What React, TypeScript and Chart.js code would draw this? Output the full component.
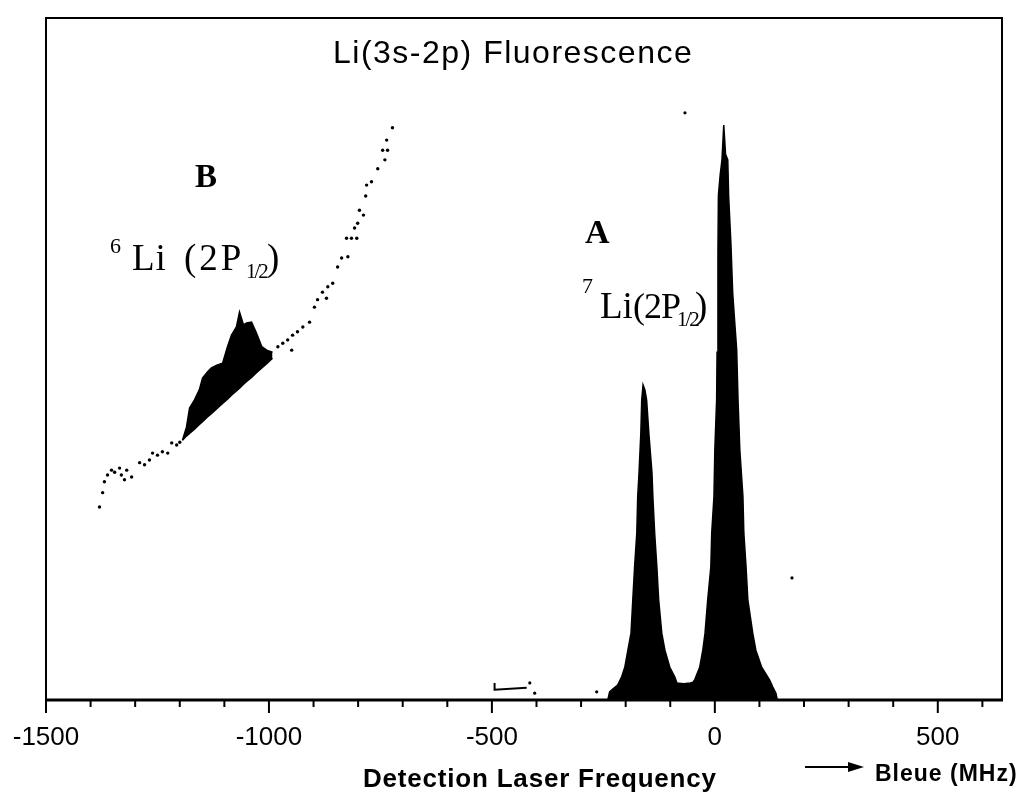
import React, { useEffect, useRef } from "react";
import { Chart, registerables } from "chart.js";

Chart.register(...registerables);

// ---- axis ----
const X_MIN = -1500;
const X_MAX = 644;
const Y_MIN = 0;
const Y_MAX = 100;
const MAJOR_TICKS = [-1500, -1000, -500, 0, 500];
const MINOR_TICKS = [-1400, -1300, -1200, -1100, -900, -800, -700, -600, -400, -300, -200, -100, 100, 200, 300, 400, 600];

// ---- A : 7Li(2P1/2) doublet (filled signal) ----
const A_FREQ = [-240, -236, -231, -218, -209, -202, -195, -188, -184, -180, -175, -173, -170, -166, -164, -161, -157, -153, -148, -141, -139, -135, -130, -126, -119, -112, -101, -90, -85, -70, -55, -49, -45, -34, -27, -22, -16, -9, -7, -2, 0, 4, 5, 7, 8, 12, 16, 20, 24, 29, 31, 36, 40, 45, 49, 52, 56, 63, 65, 70, 74, 85, 92, 105, 123, 130, 137, 140];
const A_INT = [0, 1.2, 1.5, 2.2, 3.4, 4.8, 7.3, 9.8, 14.7, 19.5, 24.5, 29.8, 33.3, 39.1, 44.0, 46.2, 45.5, 44.0, 39.1, 33.3, 29.8, 24.5, 19.5, 14.7, 9.8, 7.3, 4.8, 3.4, 2.5, 2.4, 2.5, 2.6, 3.0, 4.8, 7.3, 9.8, 14.7, 19.5, 24.5, 29.8, 36.7, 44.0, 51.0, 66.0, 74.0, 77.0, 79.2, 84.3, 80.0, 79.2, 73.8, 67.0, 59.7, 55.0, 51.3, 44.0, 36.7, 29.8, 24.5, 19.5, 14.7, 9.8, 7.3, 4.8, 2.9, 1.9, 1.0, 0];

// ---- B : 6Li(2P1/2) signal on rising background ----
const B_FREQ = [-1194, -1185, -1178, -1167, -1156, -1149, -1138, -1129, -1117, -1104, -1093, -1084, -1073, -1066, -1057, -1050, -1039, -1028, -1016, -1005, -992];
const B_LOWER = [38.1, 38.7, 39.1, 39.7, 40.4, 40.8, 41.5, 42.0, 42.7, 43.5, 44.1, 44.7, 45.3, 45.7, 46.3, 46.7, 47.3, 48.0, 48.7, 49.3, 50.1];
const B_UPPER = [38.1, 40.0, 42.8, 44.0, 45.5, 47.2, 48.1, 48.7, 49.1, 49.4, 51.8, 53.5, 54.7, 56.9, 55.0, 55.3, 55.4, 53.8, 51.8, 51.3, 51.0];

// ---- B background points (dotted trace) ----
const BG_FREQ = [-1380, -1373, -1369, -1362, -1353, -1346, -1335, -1331, -1324, -1319, -1308, -1290, -1279, -1268, -1261, -1250, -1239, -1227, -1218, -1207, -1200, -980, -969, -958, -949, -947, -936, -924, -909, -898, -891, -880, -871, -868, -857, -846, -837, -823, -826, -815, -803, -808, -801, -797, -788, -783, -781, -770, -756, -745, -734, -740, -736, -723];
const BG_INT = [28.3, 30.4, 32.0, 33.0, 33.7, 33.4, 34.0, 33.0, 32.3, 33.7, 32.7, 34.8, 34.5, 35.2, 36.2, 35.9, 36.4, 36.2, 37.7, 37.4, 37.8, 51.8, 52.3, 52.8, 51.3, 53.5, 54.0, 54.7, 55.4, 57.6, 58.7, 59.8, 58.9, 60.6, 61.1, 63.5, 64.8, 65.0, 67.7, 67.7, 67.7, 69.2, 69.9, 71.8, 71.1, 73.9, 75.5, 76.0, 77.9, 80.6, 80.6, 79.2, 82.1, 83.9];

// ---- short trace near -500 MHz ----
const SEG_FREQ = [-494, -494, -422];
const SEG_INT = [2.5, 1.5, 1.8];

// ---- isolated specks ----
const SPECK_FREQ = [-415, -404, -265, -67, 173];
const SPECK_INT = [2.5, 1.0, 1.2, 86.1, 17.9];

const pts = (xs: number[], ys: number[]) => xs.map((x, i) => ({ x, y: ys[i] }));

const SANS = "'Liberation Sans', Arial, sans-serif";
const SERIF = "'Liberation Serif', 'Times New Roman', serif";

function txt(ctx: CanvasRenderingContext2D, s: string, x: number, y: number, font: string, spacing = 0) {
  ctx.font = font;
  (ctx as any).letterSpacing = spacing + "px";
  ctx.fillText(s, x, y);
  (ctx as any).letterSpacing = "0px";
}

const decor = {
  id: "decor",
  afterDraw(chart: any) {
    const { ctx, chartArea: a } = chart;
    const x = chart.scales.x;
    ctx.save();
    ctx.strokeStyle = "#000";
    ctx.fillStyle = "#000";
    // frame
    ctx.lineWidth = 2;
    ctx.strokeRect(a.left, a.top, a.right - a.left, a.bottom - a.top);
    ctx.lineWidth = 3;
    ctx.beginPath();
    ctx.moveTo(a.left - 1, a.bottom);
    ctx.lineTo(a.right + 1, a.bottom);
    ctx.stroke();
    // ticks
    ctx.lineWidth = 2;
    MAJOR_TICKS.forEach((v) => {
      const px = x.getPixelForValue(v);
      ctx.beginPath();
      ctx.moveTo(px, a.bottom);
      ctx.lineTo(px, a.bottom + 13);
      ctx.stroke();
    });
    MINOR_TICKS.forEach((v) => {
      const px = x.getPixelForValue(v);
      ctx.beginPath();
      ctx.moveTo(px, a.bottom);
      ctx.lineTo(px, a.bottom + 7);
      ctx.stroke();
    });
    // texts
    ctx.textAlign = "left";
    ctx.textBaseline = "alphabetic";
    txt(ctx, "Li(3s-2p) Fluorescence", 333, 63, `32px ${SANS}`, 1.5);
    txt(ctx, "Detection Laser Frequency", 363, 787, `bold 26px ${SANS}`, 0.8);
    txt(ctx, "Bleue (MHz)", 875, 781, `bold 23px ${SANS}`, 1);
    // arrow
    ctx.lineWidth = 2;
    ctx.beginPath();
    ctx.moveTo(805, 767);
    ctx.lineTo(850, 767);
    ctx.stroke();
    ctx.beginPath();
    ctx.moveTo(848, 762);
    ctx.lineTo(864, 767);
    ctx.lineTo(848, 772);
    ctx.closePath();
    ctx.fill();
    // B label
    txt(ctx, "B", 195, 187, `bold 33px ${SERIF}`);
    txt(ctx, "6", 110, 253, `22px ${SERIF}`);
    txt(ctx, "Li", 132, 270, `37px ${SERIF}`, 1);
    txt(ctx, "(2P", 184, 270, `37px ${SERIF}`, 3);
    txt(ctx, "1/2", 246, 278, `21px ${SERIF}`, -2);
    txt(ctx, ")", 267, 270, `37px ${SERIF}`);
    // A label
    txt(ctx, "A", 585, 243, `bold 34px ${SERIF}`);
    txt(ctx, "7", 582, 293, `22px ${SERIF}`);
    txt(ctx, "Li", 600, 318, `37px ${SERIF}`, 0);
    txt(ctx, "(2P", 633, 318, `36px ${SERIF}`, -1);
    txt(ctx, "1/2", 677, 326, `21px ${SERIF}`, -2);
    txt(ctx, ")", 695, 318, `37px ${SERIF}`);
    ctx.restore();
  },
};

export default function App() {
  const ref = useRef<HTMLCanvasElement | null>(null);
  useEffect(() => {
    if (!ref.current) return;
    const chart = new Chart(ref.current, {
      type: "line",
      data: {
        datasets: [
          {
            label: "A",
            data: pts(A_FREQ, A_INT),
            borderColor: "#000",
            backgroundColor: "#000",
            borderWidth: 1.5,
            pointRadius: 0,
            fill: "origin",
            tension: 0,
          },
          {
            label: "B lower",
            data: pts(B_FREQ, B_LOWER),
            borderColor: "#000",
            borderWidth: 1.5,
            pointRadius: 0,
            fill: false,
            tension: 0,
          },
          {
            label: "B upper",
            data: pts(B_FREQ, B_UPPER),
            borderColor: "#000",
            backgroundColor: "#000",
            borderWidth: 1.5,
            pointRadius: 0,
            fill: "-1",
            tension: 0,
          },
          {
            label: "background",
            data: pts(BG_FREQ, BG_INT),
            showLine: false,
            pointRadius: 1.7,
            pointBorderWidth: 0,
            pointBackgroundColor: "#000",
            borderColor: "#000",
          },
          {
            label: "segment",
            data: pts(SEG_FREQ, SEG_INT),
            borderColor: "#000",
            borderWidth: 2,
            pointRadius: 0,
            fill: false,
            tension: 0,
          },
          {
            label: "specks",
            data: pts(SPECK_FREQ, SPECK_INT),
            showLine: false,
            pointRadius: 1.6,
            pointBorderWidth: 0,
            pointBackgroundColor: "#000",
            borderColor: "#000",
          },
        ],
      },
      options: {
        responsive: false,
        animation: false,
        layout: { padding: { left: 46, right: 25, top: 18, bottom: 0 } },
        plugins: {
          legend: { display: false },
          tooltip: { enabled: false },
          title: { display: false },
        },
        scales: {
          x: {
            type: "linear",
            min: X_MIN,
            max: X_MAX,
            afterBuildTicks: (scale: any) => {
              scale.ticks = MAJOR_TICKS.map((v) => ({ value: v }));
            },
            afterFit: (scale: any) => {
              scale.height = 96;
              scale.paddingLeft = 0;
              scale.paddingRight = 0;
            },
            grid: { display: false, drawTicks: false },
            border: { display: false },
            ticks: {
              color: "#000",
              padding: 22,
              maxRotation: 0,
              autoSkip: false,
              font: { family: SANS, size: 26 },
              callback: (v: any) => String(v),
            },
          },
          y: {
            type: "linear",
            min: Y_MIN,
            max: Y_MAX,
            display: false,
          },
        },
      },
      plugins: [decor],
    });
    return () => chart.destroy();
  }, []);
  return (
    <div style={{ position: "absolute", left: 0, top: 0, width: 1027, height: 796, background: "#fff" }}>
      <canvas ref={ref} width={1027} height={796} />
    </div>
  );
}
